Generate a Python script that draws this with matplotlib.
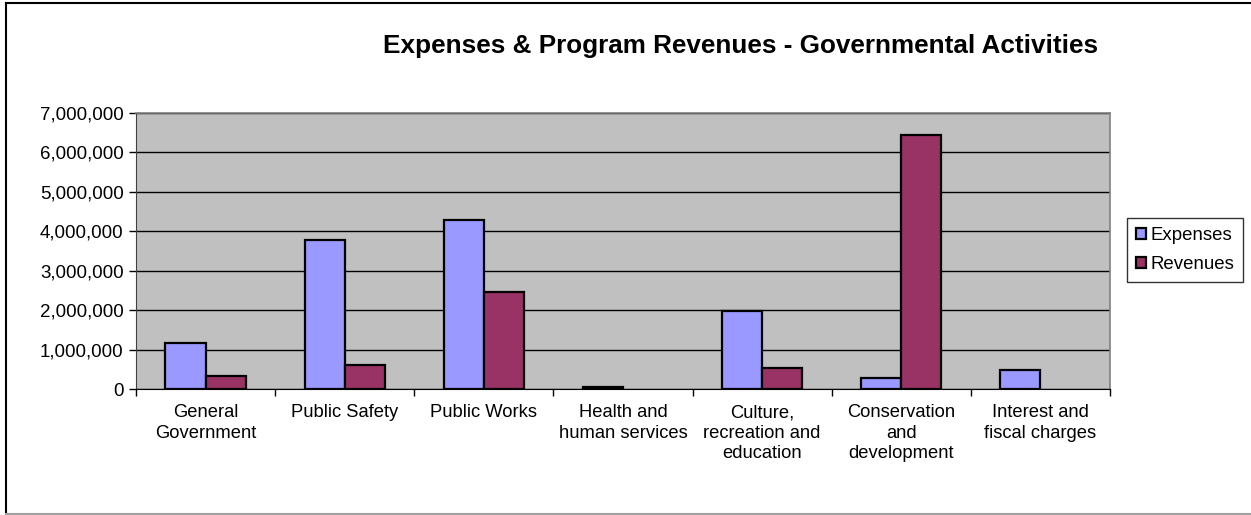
import matplotlib.pyplot as plt
import numpy as np
from matplotlib.lines import Line2D
from matplotlib.ticker import FuncFormatter, FixedLocator

plt.rcParams["font.family"] = ["Liberation Sans", "DejaVu Sans"]

categories = [
    "General\nGovernment",
    "Public Safety",
    "Public Works",
    "Health and\nhuman services",
    "Culture,\nrecreation and\neducation",
    "Conservation\nand\ndevelopment",
    "Interest and\nfiscal charges",
]
expenses = [1160000, 3770000, 4290000, 60000, 1970000, 290000, 480000]
revenues = [340000, 610000, 2460000, 0, 520000, 6450000, 0]

fig = plt.figure(figsize=(12.51, 5.15), dpi=100)
W, H = 1251, 515
ax = fig.add_axes([136 / W, 1 - 389 / H, 974 / W, 276 / H])
ax.set_facecolor("#c0c0c0")

x = np.arange(len(categories))
bw = 0.288
for offset, vals, col, lab in [(-bw / 2, expenses, "#9999ff", "Expenses"),
                               (bw / 2, revenues, "#993366", "Revenues")]:
    bars = ax.bar(x + offset, vals, bw, color=col, edgecolor="black",
                  linewidth=1.6, label=lab, zorder=3)
    for b, v in zip(bars, vals):
        if v == 0:
            b.set_linewidth(0)

ax.set_xlim(-0.5, len(categories) - 0.5)
ax.set_ylim(0, 7000000)
ax.set_yticks(np.arange(0, 7000001, 1000000))
ax.yaxis.set_major_formatter(FuncFormatter(lambda v, p: f"{int(v):,}"))
ax.yaxis.grid(True, color="black", linewidth=1.0, zorder=1)
ax.set_axisbelow(True)

# category labels centred, ticks on the boundaries
ax.set_xticks(x)
ax.set_xticklabels(categories, fontsize=13.2, linespacing=1.27)
ax.tick_params(axis="x", length=0, pad=11)
ax.xaxis.set_minor_locator(FixedLocator(np.arange(-0.5, len(categories), 1)))
ax.tick_params(axis="x", which="minor", length=5, width=1, color="black")
ax.tick_params(axis="y", labelsize=13.5, length=5, width=1, color="black", pad=4)

for side in ["top", "right"]:
    ax.spines[side].set_color("#808080")
    ax.spines[side].set_linewidth(1.2)
ax.spines["left"].set_color("#404040")
ax.spines["bottom"].set_color("black")
ax.spines["bottom"].set_zorder(4)

fig.text(741 / W, 1 - 46 / H, "Expenses & Program Revenues - Governmental Activities",
         ha="center", va="center", fontsize=18.8, fontweight="bold")

leg = fig.legend(loc="center", bbox_to_anchor=(1185 / W, 1 - 250 / H),
                 fontsize=13.4, frameon=True, fancybox=False, edgecolor="black",
                 handlelength=0.55, handleheight=0.55, handletextpad=0.2,
                 borderpad=0.5, labelspacing=0.65, borderaxespad=0)
leg.get_frame().set_linewidth(1.0)

# outer chart border: left and top in black, bottom in grey
fig.lines.append(Line2D([6 / W, 6 / W], [2 / H, 1 - 3 / H], transform=fig.transFigure,
                        color="black", linewidth=1.5))
fig.lines.append(Line2D([6 / W, 1.0], [1 - 3 / H, 1 - 3 / H], transform=fig.transFigure,
                        color="black", linewidth=1.5))
fig.lines.append(Line2D([6 / W, 1.0], [1.5 / H, 1.5 / H], transform=fig.transFigure,
                        color="#a0a0a0", linewidth=1.5))

fig.savefig("out.png", dpi=100)
